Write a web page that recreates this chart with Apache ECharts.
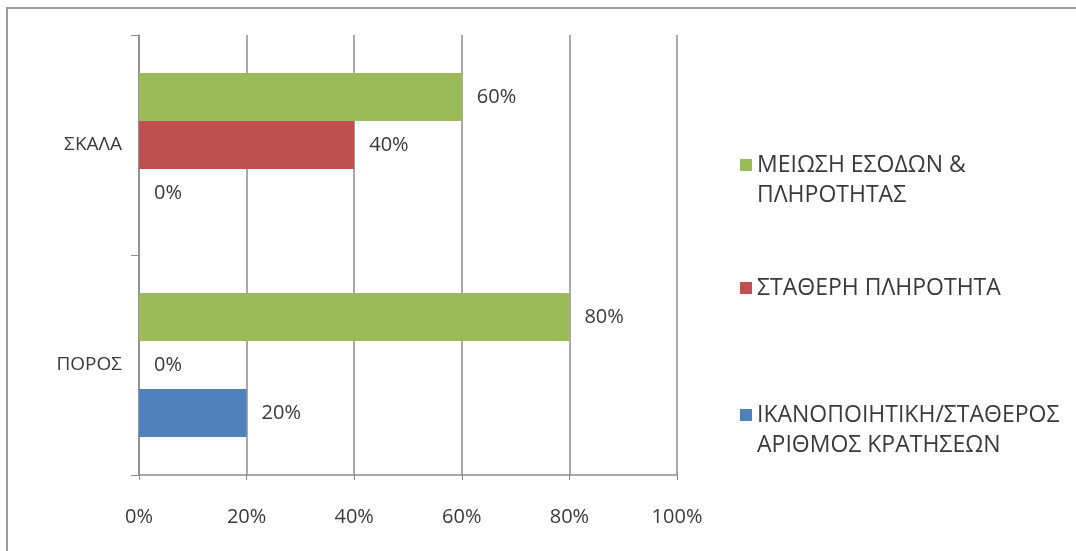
<!DOCTYPE html>
<html><head><meta charset="utf-8">
<script src="https://cdn.jsdelivr.net/npm/echarts@6/dist/echarts.min.js"></script>
<style>html,body{margin:0;padding:0;background:#fff}#c{width:1076px;height:551px}</style>
</head><body><div id="c"></div>
<script>
const categories = ['ΠΟΡΟΣ', 'ΣΚΑΛΑ'];
const seriesNames = ['ΜΕΙΩΣΗ ΕΣΟΔΩΝ & ΠΛΗΡΟΤΗΤΑΣ', 'ΣΤΑΘΕΡΗ ΠΛΗΡΟΤΗΤΑ', 'ΙΚΑΝΟΠΟΙΗΤΙΚΗ/ΣΤΑΘΕΡΟΣ ΑΡΙΘΜΟΣ ΚΡΑΤΗΣΕΩΝ'];
const legendLines = [['ΜΕΙΩΣΗ ΕΣΟΔΩΝ &', 'ΠΛΗΡΟΤΗΤΑΣ'], ['ΣΤΑΘΕΡΗ ΠΛΗΡΟΤΗΤΑ'], ['ΙΚΑΝΟΠΟΙΗΤΙΚΗ/ΣΤΑΘΕΡΟΣ', 'ΑΡΙΘΜΟΣ ΚΡΑΤΗΣΕΩΝ']];
const meiosi = [80, 60];
const statheri = [0, 40];
const ikanopoiitiki = [20, 0];
const xTicks = [0, 20, 40, 60, 80, 100];
const colors = ['#9BBB59', '#C0504D', '#4F81BD'];

const FONT = 'Open Sans';
const TXT = '#3a3a3a';
const values = [meiosi, statheri, ikanopoiitiki];
const legendTops = [160, 283, 410];
const LH = 30;

const chart = echarts.init(document.getElementById('c'));
chart.setOption({
  animation: false,
  grid: {left: 139, right: 399, top: 35, bottom: 76},
  xAxis: {
    type: 'value', min: xTicks[0], max: xTicks[xTicks.length - 1], interval: 20,
    axisLine: {show: true, lineStyle: {color: '#8c8c8c', width: 1.5}},
    axisTick: {show: true, length: 5, lineStyle: {color: '#8c8c8c'}},
    splitLine: {show: true, lineStyle: {color: '#8c8c8c', width: 1.5}},
    axisLabel: {formatter: '{value}%', fontSize: 20, fontFamily: FONT, color: TXT, margin: 32}
  },
  yAxis: {
    type: 'category', data: categories,
    axisLine: {show: true, lineStyle: {color: '#8c8c8c', width: 1.5}},
    axisTick: {show: true, length: 8, lineStyle: {color: '#8c8c8c'}},
    axisLabel: {fontSize: 19, fontFamily: FONT, color: TXT, margin: 17}
  },
  legend: seriesNames.map((n, i) => ({
    data: [n], left: 735, top: legendTops[i] - LH * 1.5, orient: 'vertical',
    icon: 'rect', itemWidth: 12, itemHeight: 12, selectedMode: false,
    formatter: () => ' \n' + legendLines[i].join('\n') + (legendLines[i].length === 1 ? '\n ' : ''),
    textStyle: {fontSize: 23, fontFamily: FONT, color: TXT, lineHeight: LH}
  })),
  series: seriesNames.map((n, i) => ({
    name: n, type: 'bar', data: values[i], barWidth: 48, barGap: '0%',
    itemStyle: {color: colors[i]},
    label: {show: true, position: 'right', distance: 15, formatter: '{c}%', fontSize: 20, fontFamily: FONT, color: TXT}
  })),
  graphic: [
    {type: 'polyline', shape: {points: [[7, 551], [7, 8], [1076, 8]]}, style: {stroke: '#9a9a9a', lineWidth: 2, fill: null}}
  ]
});
</script></body></html>
